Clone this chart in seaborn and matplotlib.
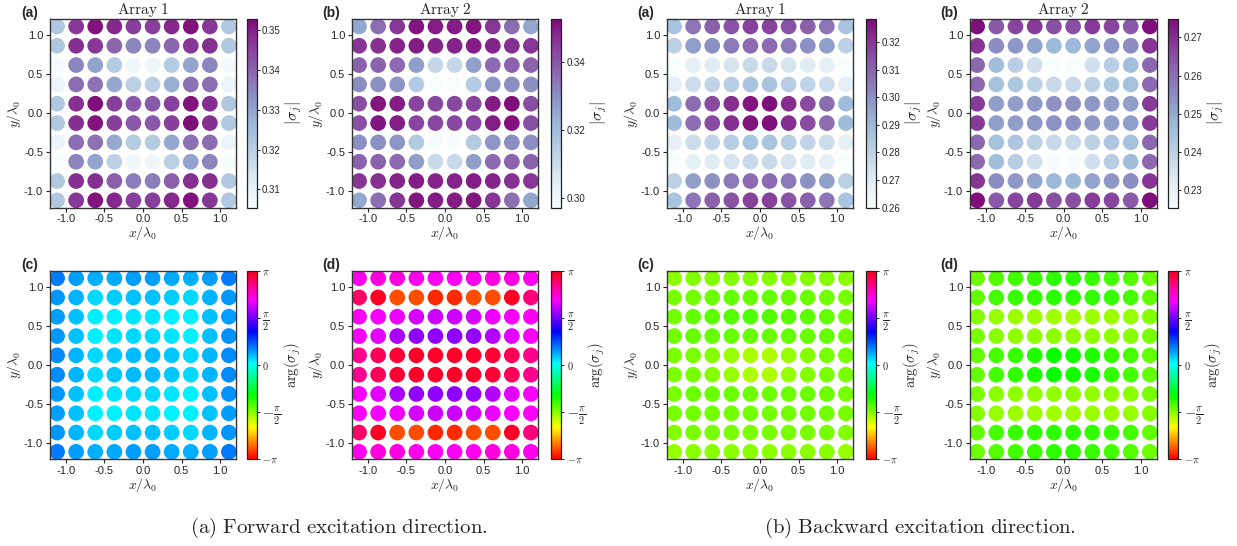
import numpy as np
import pandas as pd
import matplotlib
matplotlib.use("Agg")
import matplotlib.pyplot as plt
import seaborn as sns
from matplotlib.colors import ListedColormap, Normalize
from matplotlib.cm import ScalarMappable

# ---------------- data ----------------
# grid coordinates (x/lambda0, y/lambda0)
grid_pos = [-1.113, -0.866, -0.619, -0.371, -0.124, 0.124, 0.371, 0.619, 0.866, 1.113]
axis_ticks = [-1.0, -0.5, 0.0, 0.5, 1.0]

# rows listed from top (y = +1.11) to bottom (y = -1.11)
mag_fwd_array1 = [
    [0.322, 0.347, 0.352, 0.349, 0.346, 0.346, 0.349, 0.352, 0.347, 0.322],
    [0.322, 0.348, 0.347, 0.340, 0.335, 0.335, 0.340, 0.347, 0.348, 0.322],
    [0.3065, 0.335, 0.330, 0.321, 0.308, 0.308, 0.321, 0.330, 0.335, 0.3065],
    [0.309, 0.339, 0.338, 0.329, 0.320, 0.320, 0.328, 0.338, 0.339, 0.309],
    [0.322, 0.348, 0.3525, 0.346, 0.342, 0.342, 0.346, 0.352, 0.348, 0.322],
    [0.322, 0.348, 0.352, 0.346, 0.342, 0.342, 0.346, 0.3528, 0.348, 0.322],
    [0.309, 0.339, 0.338, 0.329, 0.321, 0.321, 0.329, 0.338, 0.339, 0.309],
    [0.3054, 0.335, 0.330, 0.320, 0.308, 0.308, 0.320, 0.330, 0.335, 0.306],
    [0.322, 0.348, 0.348, 0.341, 0.336, 0.336, 0.341, 0.348, 0.348, 0.322],
    [0.322, 0.347, 0.352, 0.349, 0.346, 0.346, 0.349, 0.352, 0.347, 0.322],
]
mag_fwd_array2 = [
    [0.325, 0.336, 0.346, 0.351, 0.350, 0.350, 0.351, 0.346, 0.336, 0.325],
    [0.346, 0.347, 0.349, 0.350, 0.349, 0.349, 0.350, 0.349, 0.347, 0.346],
    [0.338, 0.338, 0.337, 0.327, 0.312, 0.312, 0.327, 0.337, 0.338, 0.338],
    [0.330, 0.330, 0.329, 0.316, 0.2975, 0.2973, 0.316, 0.329, 0.330, 0.330],
    [0.342, 0.351, 0.350, 0.344, 0.343, 0.343, 0.344, 0.350, 0.3527, 0.342],
    [0.342, 0.351, 0.350, 0.344, 0.343, 0.343, 0.344, 0.350, 0.352, 0.342],
    [0.330, 0.330, 0.329, 0.316, 0.298, 0.298, 0.316, 0.329, 0.330, 0.330],
    [0.338, 0.338, 0.337, 0.327, 0.311, 0.311, 0.327, 0.337, 0.338, 0.338],
    [0.346, 0.347, 0.349, 0.350, 0.349, 0.349, 0.350, 0.349, 0.347, 0.346],
    [0.325, 0.336, 0.346, 0.351, 0.350, 0.350, 0.351, 0.346, 0.336, 0.325],
]
mag_bwd_array1 = [
    [0.286, 0.306, 0.311, 0.314, 0.318, 0.318, 0.314, 0.311, 0.306, 0.286],
    [0.281, 0.297, 0.300, 0.305, 0.309, 0.309, 0.305, 0.300, 0.297, 0.281],
    [0.2605, 0.268, 0.270, 0.273, 0.277, 0.277, 0.273, 0.270, 0.268, 0.2605],
    [0.268, 0.276, 0.279, 0.282, 0.286, 0.286, 0.282, 0.279, 0.276, 0.268],
    [0.289, 0.308, 0.316, 0.322, 0.327, 0.3284, 0.322, 0.316, 0.308, 0.289],
    [0.289, 0.308, 0.316, 0.322, 0.327, 0.328, 0.322, 0.316, 0.308, 0.289],
    [0.268, 0.276, 0.279, 0.282, 0.286, 0.286, 0.282, 0.279, 0.276, 0.268],
    [0.2600, 0.268, 0.270, 0.273, 0.277, 0.277, 0.273, 0.270, 0.268, 0.2602],
    [0.281, 0.297, 0.300, 0.305, 0.309, 0.309, 0.305, 0.300, 0.297, 0.281],
    [0.286, 0.306, 0.311, 0.314, 0.318, 0.318, 0.314, 0.311, 0.306, 0.286],
]
mag_bwd_array2 = [
    [0.2747, 0.263, 0.267, 0.268, 0.265, 0.265, 0.268, 0.267, 0.263, 0.2745],
    [0.269, 0.255, 0.253, 0.251, 0.247, 0.247, 0.251, 0.253, 0.255, 0.269],
    [0.261, 0.246, 0.241, 0.236, 0.2258, 0.2255, 0.236, 0.241, 0.246, 0.261],
    [0.261, 0.245, 0.243, 0.240, 0.238, 0.238, 0.240, 0.243, 0.245, 0.261],
    [0.268, 0.252, 0.252, 0.253, 0.254, 0.254, 0.253, 0.252, 0.252, 0.268],
    [0.268, 0.252, 0.252, 0.253, 0.254, 0.254, 0.253, 0.252, 0.252, 0.268],
    [0.261, 0.245, 0.243, 0.240, 0.238, 0.238, 0.240, 0.243, 0.245, 0.261],
    [0.261, 0.246, 0.241, 0.236, 0.226, 0.226, 0.236, 0.241, 0.246, 0.261],
    [0.269, 0.255, 0.253, 0.251, 0.247, 0.247, 0.251, 0.253, 0.255, 0.269],
    [0.2745, 0.263, 0.267, 0.268, 0.265, 0.265, 0.268, 0.267, 0.263, 0.2747],
]

phase_fwd_array1 = [
    [0.60, 0.45, 0.38, 0.40, 0.45, 0.45, 0.40, 0.38, 0.45, 0.60],
    [0.48, 0.35, 0.22, 0.25, 0.30, 0.30, 0.25, 0.22, 0.35, 0.48],
    [0.45, 0.30, 0.10, 0.12, 0.15, 0.15, 0.12, 0.10, 0.30, 0.45],
    [0.48, 0.30, 0.12, 0.15, 0.20, 0.20, 0.15, 0.12, 0.30, 0.50],
    [0.52, 0.35, 0.22, 0.28, 0.33, 0.33, 0.28, 0.22, 0.35, 0.52],
    [0.52, 0.35, 0.22, 0.28, 0.33, 0.33, 0.28, 0.22, 0.35, 0.52],
    [0.48, 0.30, 0.12, 0.15, 0.20, 0.20, 0.15, 0.12, 0.30, 0.50],
    [0.45, 0.30, 0.10, 0.12, 0.15, 0.15, 0.12, 0.10, 0.30, 0.45],
    [0.48, 0.35, 0.22, 0.25, 0.30, 0.30, 0.25, 0.22, 0.35, 0.48],
    [0.60, 0.45, 0.38, 0.40, 0.45, 0.45, 0.40, 0.38, 0.45, 0.60],
]
phase_fwd_array2 = [
    [2.25, 2.30, 2.30, 2.25, 2.20, 2.20, 2.25, 2.30, 2.30, 2.25],
    [2.80, 3.08, -2.82, -2.82, -2.95, -2.95, -2.82, -2.82, 3.08, 2.70],
    [2.20, 2.15, 2.10, 2.00, 1.95, 1.95, 2.00, 2.10, 2.15, 2.20],
    [2.15, 2.05, 1.80, 1.70, 1.70, 1.70, 1.72, 1.85, 2.05, 2.15],
    [2.65, 2.85, 3.00, 3.05, 3.05, 3.05, 3.05, 3.00, 2.85, 2.65],
    [2.65, 2.85, 3.00, 3.05, 3.05, 3.05, 3.05, 3.00, 2.85, 2.65],
    [2.15, 2.05, 1.80, 1.70, 1.70, 1.70, 1.72, 1.85, 2.05, 2.15],
    [2.20, 2.15, 2.10, 2.00, 1.95, 1.95, 2.00, 2.10, 2.15, 2.20],
    [2.80, 3.08, -2.82, -2.82, -2.95, -2.95, -2.82, -2.82, 3.08, 2.70],
    [2.25, 2.30, 2.30, 2.25, 2.20, 2.20, 2.25, 2.30, 2.30, 2.25],
]
phase_bwd_array1 = [
    [-1.58, -1.56, -1.56, -1.55, -1.55, -1.55, -1.55, -1.56, -1.56, -1.58],
    [-1.52, -1.48, -1.46, -1.44, -1.43, -1.43, -1.44, -1.46, -1.48, -1.52],
    [-1.48, -1.40, -1.38, -1.36, -1.33, -1.33, -1.36, -1.38, -1.40, -1.48],
    [-1.48, -1.43, -1.43, -1.43, -1.43, -1.43, -1.43, -1.43, -1.43, -1.48],
    [-1.52, -1.52, -1.56, -1.63, -1.72, -1.72, -1.63, -1.56, -1.52, -1.52],
    [-1.52, -1.52, -1.56, -1.63, -1.72, -1.72, -1.63, -1.56, -1.52, -1.52],
    [-1.50, -1.46, -1.46, -1.46, -1.46, -1.46, -1.46, -1.46, -1.46, -1.50],
    [-1.52, -1.48, -1.48, -1.48, -1.48, -1.48, -1.48, -1.48, -1.48, -1.52],
    [-1.55, -1.52, -1.52, -1.52, -1.52, -1.52, -1.52, -1.52, -1.52, -1.55],
    [-1.62, -1.59, -1.59, -1.59, -1.59, -1.59, -1.59, -1.59, -1.59, -1.62],
]
phase_bwd_array2 = [
    [-1.45, -1.35, -1.30, -1.25, -1.20, -1.20, -1.25, -1.30, -1.35, -1.45],
    [-1.40, -1.30, -1.25, -1.22, -1.20, -1.20, -1.22, -1.25, -1.30, -1.40],
    [-1.55, -1.62, -1.65, -1.66, -1.68, -1.68, -1.66, -1.65, -1.62, -1.55],
    [-1.52, -1.58, -1.60, -1.60, -1.60, -1.60, -1.60, -1.60, -1.58, -1.52],
    [-1.40, -1.30, -1.25, -1.15, -1.05, -1.10, -1.15, -1.25, -1.30, -1.40],
    [-1.40, -1.28, -1.22, -1.12, -1.05, -1.08, -1.12, -1.22, -1.28, -1.40],
    [-1.52, -1.58, -1.60, -1.60, -1.60, -1.60, -1.60, -1.60, -1.58, -1.52],
    [-1.55, -1.62, -1.65, -1.66, -1.68, -1.68, -1.66, -1.65, -1.62, -1.55],
    [-1.40, -1.30, -1.25, -1.22, -1.20, -1.20, -1.22, -1.25, -1.30, -1.40],
    [-1.45, -1.35, -1.30, -1.25, -1.20, -1.20, -1.25, -1.30, -1.35, -1.45],
]

mag_ticks = [
    [0.31, 0.32, 0.33, 0.34, 0.35],
    [0.30, 0.32, 0.34],
    [0.26, 0.27, 0.28, 0.29, 0.30, 0.31, 0.32],
    [0.23, 0.24, 0.25, 0.26, 0.27],
]
phase_ticks = [-np.pi, -np.pi / 2, 0, np.pi / 2, np.pi]
phase_tick_labels = [r"$-\pi$", r"$-\frac{\pi}{2}$", r"$0$", r"$\frac{\pi}{2}$", r"$\pi$"]

top_titles = ["Array 1", "Array 2", "Array 1", "Array 2"]
top_letters = ["(a)", "(b)", "(a)", "(b)"]
bottom_letters = ["(c)", "(d)", "(c)", "(d)"]
captions = ["(a) Forward excitation direction.", "(b) Backward excitation direction."]

# ---------------- style ----------------
sns.set_style("ticks")
plt.rcParams["font.family"] = ["Liberation Sans", "DejaVu Sans"]
plt.rcParams["mathtext.fontset"] = "cm"
plt.rcParams["axes.unicode_minus"] = False

W, H = 1237, 546
fig = plt.figure(figsize=(W / 100, H / 100), dpi=100)

def rect(l, t, r, b):
    return [l / W, 1 - b / H, (r - l) / W, (b - t) / H]

col_ax = [(50, 236), (352, 538), (667, 853), (970, 1157)]
col_cb = [(247, 256.5), (551, 561), (866, 876), (1168, 1178)]
row_y = [(19.3, 207.5), (271, 459)]
letter_x = [21, 322, 637, 940]

bupu = sns.color_palette("BuPu", as_cmap=True)
mag_cmap = ListedColormap(bupu(np.linspace(0.0, 0.88, 256)))
phase_cmap = plt.get_cmap("hsv")

mag_data = [mag_fwd_array1, mag_fwd_array2, mag_bwd_array1, mag_bwd_array2]
phase_data = [phase_fwd_array1, phase_fwd_array2, phase_bwd_array1, phase_bwd_array2]

ys_top_down = grid_pos[::-1]


def latex_roman(s):
    return r"$\mathrm{" + s.replace(" ", r"\ ") + "}$"


def panel(ax, cax, values, cmap, vmin, vmax):
    recs = []
    for r, row in enumerate(values):
        for c, v in enumerate(row):
            recs.append((grid_pos[c], ys_top_down[r], v))
    df = pd.DataFrame(recs, columns=["x", "y", "v"])
    sns.scatterplot(data=df, x="x", y="y", hue="v", palette=cmap,
                    hue_norm=(vmin, vmax), s=128, linewidth=0,
                    legend=False, ax=ax)
    ax.set_xlim(-1.205, 1.205)
    ax.set_ylim(-1.205, 1.205)
    ax.set_xticks(axis_ticks)
    ax.set_yticks(axis_ticks)
    ax.set_xticklabels([f"{t:.1f}" for t in axis_ticks])
    ax.set_yticklabels([f"{t:.1f}" for t in axis_ticks])
    ax.tick_params(labelsize=8, length=3, width=0.8, direction="out", pad=2)
    ax.set_xlabel(r"$x/\lambda_0$", fontsize=10, labelpad=0)
    ax.set_ylabel(r"$y/\lambda_0$", fontsize=10, labelpad=1)
    for sp in ax.spines.values():
        sp.set_color("#333333")
        sp.set_linewidth(1.0)
    sm = ScalarMappable(norm=Normalize(vmin, vmax), cmap=cmap)
    cb = fig.colorbar(sm, cax=cax)
    cb.outline.set_linewidth(0.9)
    cb.outline.set_edgecolor("#222222")
    cax.tick_params(labelsize=7, length=2.5, width=0.7, pad=1.5)
    return cb


for i in range(4):
    l, r = col_ax[i]
    cl, cr = col_cb[i]
    # magnitude (top row)
    t, b = row_y[0]
    ax = fig.add_axes(rect(l, t, r, b))
    cax = fig.add_axes(rect(cl, t, cr, b))
    vals = np.array(mag_data[i])
    cb = panel(ax, cax, mag_data[i], mag_cmap, vals.min(), vals.max())
    cb.set_ticks(mag_ticks[i])
    cb.set_ticklabels([f"{v:.2f}" for v in mag_ticks[i]])
    cb.set_label(r"$|\sigma_j|$", fontsize=11.5, labelpad=2)
    ax.set_title(latex_roman(top_titles[i]), fontsize=11, pad=3)
    fig.text(letter_x[i] / W, 1 - 13 / H, top_letters[i], fontsize=10,
             fontweight="bold", ha="left", va="center")

    # phase (bottom row)
    t, b = row_y[1]
    ax = fig.add_axes(rect(l, t, r, b))
    cax = fig.add_axes(rect(cl, t, cr, b))
    cb = panel(ax, cax, phase_data[i], phase_cmap, -np.pi, np.pi)
    cb.set_ticks(phase_ticks)
    cb.set_ticklabels(phase_tick_labels)
    for lab in cax.get_yticklabels():
        lab.set_fontsize(10.5 if "frac" in lab.get_text() else 7.5)
    cb.set_label(r"$\arg(\sigma_j)$", fontsize=10.5, labelpad=1)
    fig.text(letter_x[i] / W, 1 - 265 / H, bottom_letters[i], fontsize=10,
             fontweight="bold", ha="left", va="center")

fig.text(339 / W, 1 - 528 / H, latex_roman(captions[0]),
         fontsize=15, ha="center", va="center")
fig.text(920 / W, 1 - 528 / H, latex_roman(captions[1]),
         fontsize=15, ha="center", va="center")

fig.savefig("out.png", dpi=100)
